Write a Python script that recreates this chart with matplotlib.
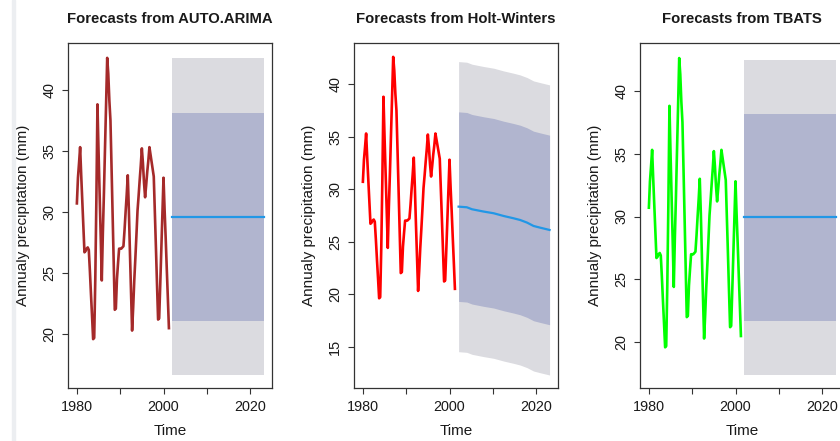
import numpy as np
import matplotlib
matplotlib.use("Agg")
import matplotlib.pyplot as plt
from matplotlib.patches import Rectangle
from matplotlib.ticker import FixedLocator

plt.rcParams['font.family'] = ['Liberation Sans', 'DejaVu Sans']

# ---------------- data ----------------
obs_start = 1980.0
obs_freq = 4  # observations per year
precip = [30.7, 32.8, 34.0, 35.3, 33.0, 30.9, 28.8, 26.7, 26.8, 27.0, 27.1, 26.9,
          25.2, 23.3, 21.5, 19.6, 19.7, 24.5, 31.0, 38.8, 35.0, 31.5, 28.0, 24.4,
          28.3, 31.6, 35.3, 38.9, 42.6, 41.3, 39.1, 37.5, 33.7, 29.8, 25.9, 22.0,
          22.1, 24.5, 25.8, 27.0, 27.0, 27.0, 27.1, 27.2, 28.5, 30.0, 31.4, 33.0,
          30.2, 26.7, 23.5, 20.3, 22.2, 24.4, 26.2, 28.1, 30.1, 31.3, 32.6, 33.8,
          35.2, 34.0, 32.4, 31.2, 32.2, 33.3, 34.2, 35.3, 34.7, 34.1, 33.5, 32.9,
          30.0, 27.1, 24.1, 21.2, 21.3, 24.1, 27.0, 29.9, 32.8, 30.2, 27.9, 25.4,
          23.0, 20.5]

# AUTO.ARIMA forecast
arima_years = [2002.0, 2023.2]
arima_mean = [29.62, 29.62]
arima_lo80 = [21.11, 21.11]
arima_hi80 = [38.07, 38.07]
arima_lo95 = [16.67, 16.67]
arima_hi95 = [42.57, 42.57]

# Holt-Winters forecast
hw_years = [2002.1, 2004.0, 2005.2, 2007.9, 2010.2, 2012.5, 2014.8, 2016.3, 2017.9, 2019.4, 2020.9, 2023.1]
hw_mean = [28.33, 28.27, 28.08, 27.86, 27.70, 27.44, 27.22, 27.06, 26.81, 26.49, 26.33, 26.11]
hw_hi80 = [37.36, 37.30, 37.11, 36.89, 36.73, 36.47, 36.25, 36.09, 35.84, 35.52, 35.36, 35.14]
hw_lo80 = [19.30, 19.24, 19.05, 18.83, 18.67, 18.41, 18.19, 18.03, 17.78, 17.46, 17.30, 17.08]
hw_hi95 = [42.15, 42.09, 41.90, 41.68, 41.52, 41.26, 41.04, 40.88, 40.63, 40.31, 40.15, 39.93]
hw_lo95 = [14.51, 14.45, 14.26, 14.04, 13.88, 13.62, 13.40, 13.24, 12.99, 12.67, 12.51, 12.29]

# TBATS forecast
tbats_years = [2002.0, 2023.3]
tbats_mean = [29.94, 29.94]
tbats_lo80 = [21.72, 21.72]
tbats_hi80 = [38.12, 38.12]
tbats_lo95 = [17.40, 17.40]
tbats_hi95 = [42.44, 42.44]

titles = ["Forecasts from AUTO.ARIMA", "Forecasts from Holt-Winters", "Forecasts from TBATS"]
x_ticks = [1980, 1990, 2000, 2010, 2020]
x_tick_labels = ["1980", "", "2000", "", "2020"]
y_ticks_list = [[20, 25, 30, 35, 40], [15, 20, 25, 30, 35, 40], [20, 25, 30, 35, 40]]
ylims = [(15.63, 43.84), (11.08, 43.95), (16.39, 43.82)]

# ---------------- drawing ----------------
W, H = 840, 441
fig = plt.figure(figsize=(W / 100, H / 100), dpi=100)
fig.patches.append(Rectangle((12 / W, 0), 3 / W, 1, transform=fig.transFigure,
                             color='#ECEEF1', zorder=0))

obs_years = obs_start + np.arange(len(precip)) / obs_freq
line_colors = ['#A52A2A', '#FF0000', '#00FF00']
fc_sets = [
    (arima_years, arima_mean, arima_lo80, arima_hi80, arima_lo95, arima_hi95),
    (hw_years, hw_mean, hw_lo80, hw_hi80, hw_lo95, hw_hi95),
    (tbats_years, tbats_mean, tbats_lo80, tbats_hi80, tbats_lo95, tbats_hi95),
]
lefts = [68, 354, 640]
bottom_px, top_px = 387.7, 42.7
txt = '#1a1a1a'

for i in range(3):
    ax = fig.add_axes([lefts[i] / W, 1 - bottom_px / H, 204 / W, (bottom_px - top_px) / H])
    yrs, m, lo80, hi80, lo95, hi95 = fc_sets[i]
    ax.fill_between(yrs, lo95, hi95, color='#DBDBE0', lw=0, zorder=1)
    ax.fill_between(yrs, lo80, hi80, color='#B1B5CF', lw=0, zorder=2)
    ax.plot(yrs, m, color='#2297E6', lw=1.6, zorder=3)
    ax.plot(obs_years, precip, color=line_colors[i], lw=1.9, zorder=4)
    ax.set_xlim(1977.95, 2025.05)
    ax.set_ylim(*ylims[i])
    ax.xaxis.set_major_locator(FixedLocator(x_ticks))
    ax.set_xticklabels(x_tick_labels)
    ax.set_yticks(y_ticks_list[i])
    ax.set_yticklabels([str(v) for v in y_ticks_list[i]], rotation=90, va='center')
    ax.tick_params(axis='both', length=4.5, width=0.8, color='#333333',
                   labelsize=10.4, labelcolor=txt)
    ax.tick_params(axis='x', pad=4.5)
    ax.tick_params(axis='y', pad=4)
    for s in ax.spines.values():
        s.set_color('#333333')
        s.set_linewidth(0.9)
    ax.set_title(titles[i], fontsize=10.7, fontweight='bold', color=txt, pad=14)
    ax.set_xlabel("Time", fontsize=11, color=txt)
    ax.xaxis.set_label_coords(0.5, -0.105)
    ax.set_ylabel("Annualy precipitation (mm)", fontsize=11, color=txt)
    ax.yaxis.set_label_coords(-0.185, 0.5)

fig.savefig("out.png", dpi=100)
